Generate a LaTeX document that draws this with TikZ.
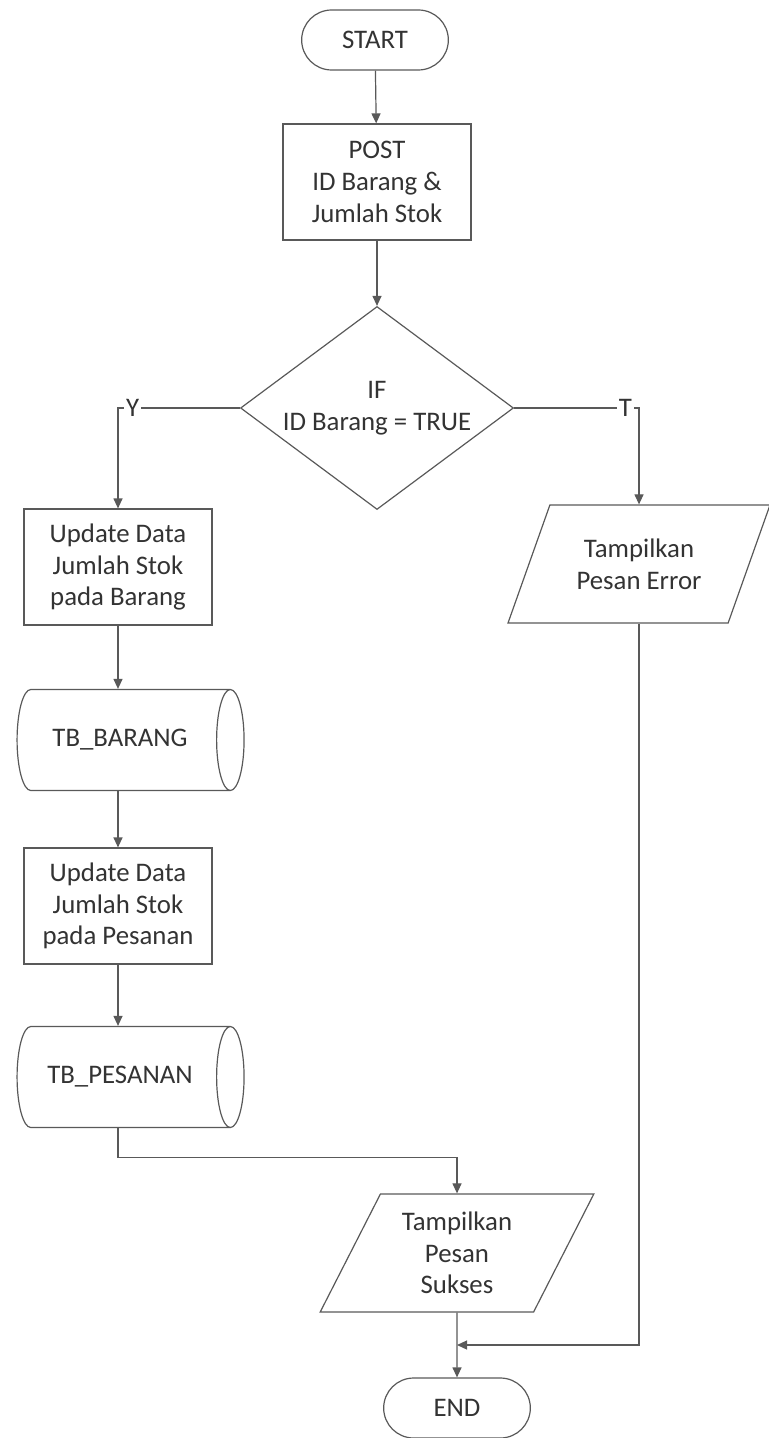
\documentclass[tikz,border=0pt]{standalone}
\usepackage{fontspec}
\setmainfont{Carlito}
\usetikzlibrary{shapes.geometric,shapes.misc,arrows.meta}
\colorlet{garis}{black!65}
\tikzset{
  terminal/.style={draw=garis, rounded rectangle, minimum width=80pt, minimum height=30pt},
  proses/.style={draw=garis, rectangle, minimum width=94pt, minimum height=58pt, align=center},
  keputusan/.style={draw=garis, diamond, shape aspect=1.345, minimum width=136.5pt, minimum height=101.5pt, inner sep=0pt, align=center},
  tampil/.style={draw=garis, trapezium, trapezium left angle=63, trapezium right angle=117, trapezium stretches=true, minimum height=59pt, align=center},
  tabel/.style={draw=garis, cylinder, aspect=0.8, minimum width=50.5pt, minimum height=113.5pt},
  panah/.style={draw=garis, -{Triangle[length=5pt,width=4.5pt]}},
  cabang/.style={fill=white, inner sep=1pt}
}
\begin{document}
\begin{tikzpicture}[x=0.5pt, y=-0.5pt, font=\fontsize{13.4}{15.8}\selectfont, text=black!80, line width=0.6pt]
  \useasboundingbox (0,0) rectangle (769,1438);
  % simbol
  \node[terminal] (start) at (375,40) {START};
  \node[proses] (post) at (377,182) {POST\\ID Barang \&\\Jumlah Stok};
  \node[keputusan] (if) at (377,408) {IF\\ID Barang = TRUE};
  \node[proses] (ubarang) at (118,567) {Update Data\\Jumlah Stok\\pada Barang};
  \node[tabel] (tbbarang) at (120,740) {TB\_BARANG};
  \node[proses] (upesanan) at (118,906) {Update Data\\Jumlah Stok\\pada Pesanan};
  \node[tabel] (tbpesanan) at (120,1077) {TB\_PESANAN};
  \node[tampil, minimum width=131pt] (error) at (639,564) {Tampilkan\\Pesan Error};
  \node[tampil, minimum width=137pt] (sukses) at (457,1253) {Tampilkan\\Pesan\\Sukses};
  \node[terminal] (end) at (457,1408) {END};
  \coordinate (gabung) at (457,1345);
  % alur
  \draw[panah] (start) -- (post);
  \draw[panah] (post) -- (if);
  \draw[panah] (if.west) -| node[cabang, pos=0.44] {Y} (ubarang.north);
  \draw[panah] (if.east) -| node[cabang, pos=0.445] {T} (error.north);
  \draw[panah] (ubarang) -- (ubarang.south |- tbbarang.north);
  \draw[panah] (ubarang.south |- tbbarang.south) -- (upesanan.north);
  \draw[panah] (upesanan) -- (upesanan.south |- tbpesanan.north);
  \draw[panah] (upesanan.south |- tbpesanan.south) -- ++(0,29) -| (sukses.north);
  \draw[panah] (sukses) -- (end);
  \draw[panah] (error.south) |- (gabung);
\end{tikzpicture}
\end{document}
